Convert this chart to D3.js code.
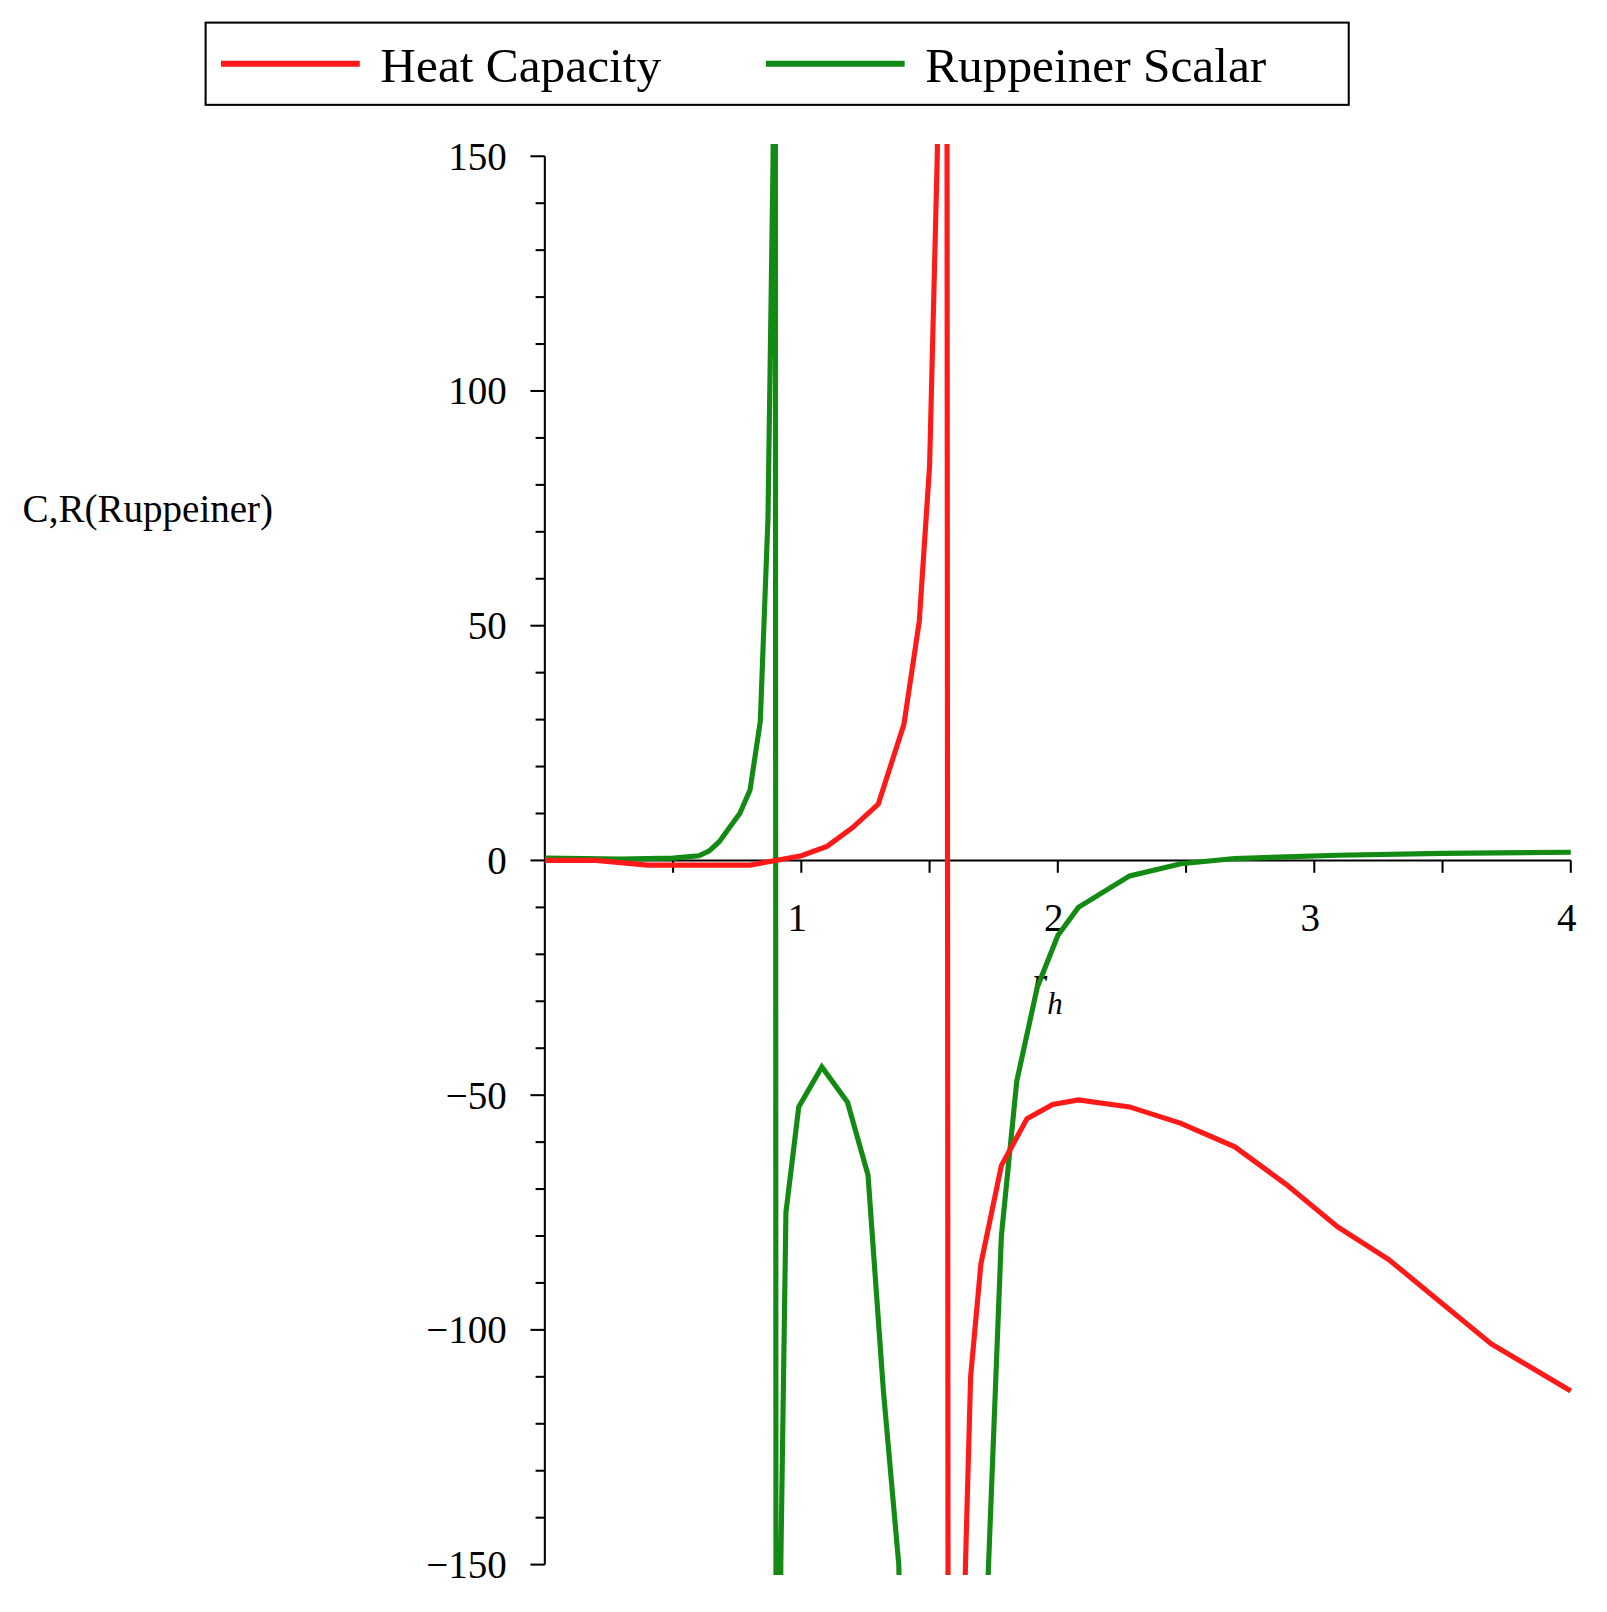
<!DOCTYPE html>
<html>
<head>
<meta charset="utf-8">
<script src="https://cdn.jsdelivr.net/npm/d3@7"></script>
<style>
  body { margin: 0; background: #fff; }
  text { font-family: "Liberation Serif", "DejaVu Serif", serif; }
</style>
</head>
<body>
<svg id="chart" width="1607" height="1612"></svg>
<script>
// values
var heatX = [0, 0.2, 0.4, 0.6, 0.8, 0.9, 1.0, 1.1, 1.2, 1.3, 1.4, 1.46, 1.5, 1.53, 1.55, 1.565,
             1.575, 1.6, 1.64, 1.66, 1.70, 1.78, 1.88, 1.98, 2.08, 2.28, 2.48, 2.69, 2.89, 3.09, 3.29, 3.49, 3.69, 4.0];
var heatY = [0, 0, -1, -1, -1, 0, 1, 3, 7, 12, 29, 51, 84, 150, 250, 400,
             -400, -250, -150, -110, -86, -65, -55, -52, -51, -52.5, -56, -61, -69, -78, -85, -94, -103, -113];
var ruppX = [0, 0.3, 0.5, 0.6, 0.64, 0.68, 0.72, 0.76, 0.80, 0.84, 0.87, 0.89, 0.897,
             0.903, 0.92, 0.94, 0.99, 1.08, 1.18, 1.26, 1.32, 1.38, 1.40,
             1.70, 1.73, 1.78, 1.84, 1.92, 2.00, 2.08, 2.28, 2.48, 2.69, 3.09, 3.5, 4.0];
var ruppY = [0.5, 0.3, 0.5, 1, 2, 4, 7, 10, 15, 29.6, 73, 150, 400,
             -400, -150, -75, -52.5, -44, -51.5, -67, -113, -150, -200,
             -200, -150, -80, -47, -27, -16, -10, -3.3, -0.7, 0.4, 1.1, 1.5, 1.75];
var yTicks = [-150, -100, -50, 0, 50, 100, 150];
var xTicks = [1, 2, 3, 4];

var svg = d3.select("#chart").append("g").attr("transform", "scale(1.028)");
var x = d3.scaleLinear().domain([0, 4]).range([530, 1528]);
var y = d3.scaleLinear().domain([-150, 150]).range([1522, 152]);

svg.append("clipPath").attr("id", "clip")
  .append("rect").attr("x", 530).attr("y", 140).attr("width", 1010).attr("height", 1392);

// axes
svg.append("line").attr("x1", x(0)).attr("x2", x(0)).attr("y1", y(150)).attr("y2", y(-150))
  .attr("stroke", "#000").attr("stroke-width", 2);
svg.append("line").attr("x1", x(0)).attr("x2", x(4)).attr("y1", y(0)).attr("y2", y(0))
  .attr("stroke", "#000").attr("stroke-width", 2);

d3.range(-150, 151, 10).forEach(function(v){
    var major = v % 50 === 0;
    svg.append("line").attr("x1", x(0) - (major ? 14 : 9)).attr("x2", x(0))
      .attr("y1", y(v)).attr("y2", y(v)).attr("stroke", "#000").attr("stroke-width", 2);
});
d3.range(0.5, 4.01, 0.5).forEach(function(v){
    svg.append("line").attr("x1", x(v)).attr("x2", x(v))
      .attr("y1", y(0)).attr("y2", y(0) + 12).attr("stroke", "#000").attr("stroke-width", 2);
});

svg.selectAll(".yl").data(yTicks).enter().append("text")
  .attr("x", 493).attr("y", function(d){ return y(d) + 13; })
  .attr("text-anchor", "end").attr("font-size", 38)
  .text(function(d){ return d < 0 ? "\u2212" + (-d) : d; });
svg.selectAll(".xl").data(xTicks).enter().append("text")
  .attr("x", function(d){ return x(d) - 4; }).attr("y", 906)
  .attr("text-anchor", "middle").attr("font-size", 38)
  .text(function(d){ return d; });

svg.append("text").attr("x", 22).attr("y", 508).attr("font-size", 38).text("C,R(Ruppeiner)");
var lab = svg.append("text").attr("x", 1004).attr("y", 968).attr("font-size", 38).attr("font-style", "italic");
lab.append("tspan").text("r");
lab.append("tspan").attr("dy", 18).attr("font-size", 30).text("h");

// curves
var line = d3.line().x(function(d){ return x(d[0]); }).y(function(d){ return y(d[1]); });
var g = svg.append("g").attr("clip-path", "url(#clip)");
g.append("path").datum(d3.zip(ruppX, ruppY)).attr("d", line)
  .attr("fill", "none").attr("stroke", "#138a13").attr("stroke-width", 5);
g.append("path").datum(d3.zip(heatX, heatY)).attr("d", line)
  .attr("fill", "none").attr("stroke", "#ff1a1a").attr("stroke-width", 5);

// legend
svg.append("rect").attr("x", 200).attr("y", 22).attr("width", 1112).attr("height", 80)
  .attr("fill", "#fff").attr("stroke", "#000").attr("stroke-width", 2);
var legend = [["Heat Capacity", "#ff1a1a", 215], ["Ruppeiner Scalar", "#138a13", 745]];
legend.forEach(function(l){
    svg.append("line").attr("x1", l[2]).attr("x2", l[2] + 135).attr("y1", 62).attr("y2", 62)
      .attr("stroke", l[1]).attr("stroke-width", 6);
    svg.append("text").attr("x", l[2] + 155).attr("y", 80).attr("font-size", 48).text(l[0]);
});
</script>
</body>
</html>
